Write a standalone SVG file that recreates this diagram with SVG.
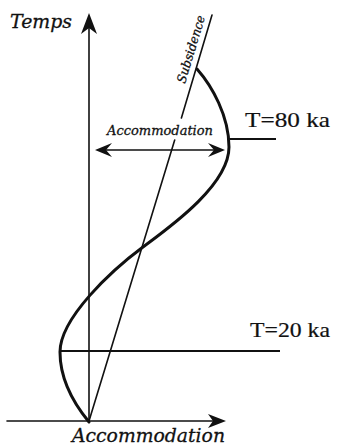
<svg xmlns="http://www.w3.org/2000/svg" width="337" height="448" viewBox="0 0 337 448">
<style>
.ln{stroke:#111;stroke-width:1.6;fill:none;stroke-linecap:round}
.thick{stroke:#111;stroke-width:2;fill:none}
.curve{stroke:#111;stroke-width:3;fill:none;stroke-linecap:round}
.head{fill:#111;stroke:none}
.it{font-family:"DejaVu Serif","Liberation Serif",serif;font-style:italic;fill:#111;stroke:#111;stroke-width:0.3}
.rm{font-family:"Liberation Serif","Times New Roman",serif;fill:#111;stroke:#111;stroke-width:0.2}
</style>
<rect width="337" height="448" fill="#fff"/>
<g id="connectors">
  <g id="time-axis">
    <line class="ln" x1="89" y1="421" x2="89" y2="28"/>
    <path class="head" d="M89,13 L97,34 L89,28 L81,34 Z"/>
  </g>
  <g id="accommodation-axis">
    <line class="ln" x1="7" y1="421" x2="214" y2="421"/>
    <path class="head" d="M226,421 L208,414 L213,421 L208,428 Z"/>
  </g>
  <g id="subsidence-line">
    <line class="ln" x1="89" y1="421" x2="174.7" y2="140"/>
    <line class="ln" x1="181.4" y1="118" x2="212" y2="15"/>
  </g>
  <g id="accommodation-arrow">
    <line class="ln" x1="104" y1="150" x2="216" y2="150"/>
    <path class="head" d="M95,150 L112,143 L106,150 L112,157 Z"/>
    <path class="head" d="M225,150 L208,143 L214,150 L208,157 Z"/>
  </g>
  <g id="t80-line"><line class="thick" x1="229" y1="139" x2="276" y2="139"/></g>
  <g id="t20-line"><line class="thick" x1="60" y1="351" x2="280" y2="351"/></g>
</g>
<g id="accommodation-curve">
  <path class="curve" d="M197,69 C212,86 229,116 229,147 C229,185 170,227 143,247 C112,270 60,318 60,352 C60,380 75,405 89,422"/>
</g>
<g id="label-temps"><text class="it" x="10" y="28" font-size="18" textLength="62" lengthAdjust="spacingAndGlyphs">Temps</text></g>
<g id="label-subsidence"><text class="it" font-size="12.5" textLength="70" lengthAdjust="spacingAndGlyphs" transform="translate(185,84) rotate(-73.3)">Subsidence</text></g>
<g id="label-accommodation-mid"><text class="it" x="107" y="135" font-size="13" textLength="106" lengthAdjust="spacingAndGlyphs">Accommodation</text></g>
<g id="label-t80"><text class="rm" x="245" y="127" font-size="22" textLength="85" lengthAdjust="spacingAndGlyphs">T=80 ka</text></g>
<g id="label-t20"><text class="rm" x="250" y="337" font-size="21" textLength="80" lengthAdjust="spacingAndGlyphs">T=20 ka</text></g>
<g id="label-accommodation-axis"><text class="it" x="72" y="442" font-size="19" textLength="153" lengthAdjust="spacingAndGlyphs">Accommodation</text></g>
</svg>
